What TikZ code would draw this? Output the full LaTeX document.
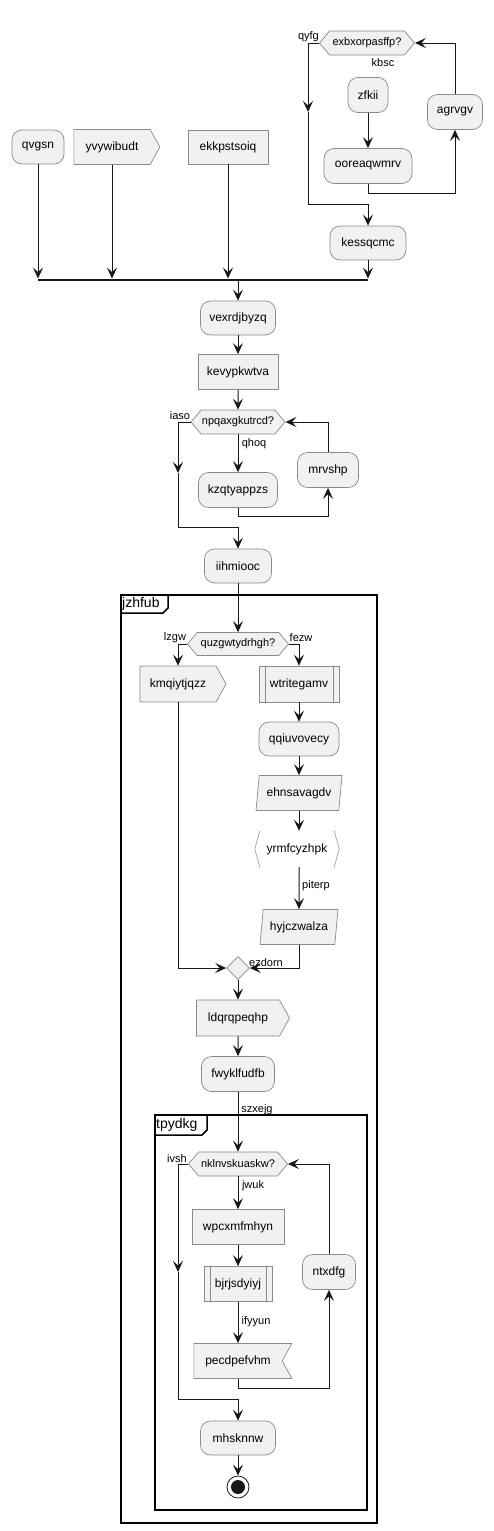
\documentclass[tikz,border=0pt]{standalone}
\usepackage{fontspec}
\setmainfont{Liberation Sans}
\usepackage{xcolor}
\usetikzlibrary{arrows.meta,positioning,shapes.geometric,shapes.symbols}

\definecolor{umlline}{HTML}{181818}
\definecolor{umlborder}{HTML}{8A8A8A}
\definecolor{umlfill}{HTML}{F1F1F1}

\begin{document}
\begin{tikzpicture}[x=1pt, y=-1pt,
    base/.style={draw=umlborder, fill=umlfill, line width=0.7pt, inner sep=0pt,
                 font=\fontsize{12}{14}\selectfont},
    act/.style={base, rectangle, rounded corners=10pt, minimum height=34pt},
    task/.style={base, rectangle, minimum height=35pt},
    subtask/.style={task, path picture={
        \draw[umlborder, line width=0.7pt] ([xshift=6pt]path picture bounding box.north west) -- ([xshift=6pt]path picture bounding box.south west);
        \draw[umlborder, line width=0.7pt] ([xshift=-6pt]path picture bounding box.north east) -- ([xshift=-6pt]path picture bounding box.south east);}},
    sendbox/.style={base, signal, signal to=east, signal from=nowhere, signal pointer angle=122, minimum height=35pt},
    recvbox/.style={base, signal, signal from=east, signal to=nowhere, signal pointer angle=122, minimum height=35pt},
    slantbox/.style={base, trapezium, trapezium left angle=74, trapezium right angle=106,
                     trapezium stretches body, minimum height=35pt},
    decide/.style={base, signal, signal to=east and west, signal pointer angle=100, minimum height=24pt,
                   font=\fontsize{11}{13}\selectfont},
    merge/.style={base, diamond, minimum size=23pt},
    bar/.style={fill=umlline, inner sep=0pt, minimum height=2.5pt},
    stopnode/.style={circle, draw=umlline, fill=white, line width=0.8pt, minimum size=22pt, inner sep=0pt,
        path picture={\fill[umlline] (path picture bounding box.center) circle (7pt);}},
    lbl/.style={inner sep=0pt, font=\fontsize{11}{13}\selectfont},
    frame/.style={draw=black, line width=1.5pt, inner sep=0pt, anchor=north west},
    framelbl/.style={inner sep=0pt, anchor=west, font=\fontsize{14}{16}\selectfont},
    flow/.style={-{Stealth[length=11pt, width=10pt, inset=4.5pt]}, umlline, line width=1pt},
    wire/.style={umlline, line width=1pt}
]
    \useasboundingbox (0,0) rectangle (493,1531);

    % Partitions
    \node[frame, minimum width=256pt, minimum height=928pt] (jzhfub) at (120,594) {};
    \draw[line width=1.5pt] ([yshift=-19pt]jzhfub.north west) -- ++(43,0) -- ++(5,-5) -- ++(0,-14);
    \node[framelbl] (jzhfubTitle) at ([xshift=2pt,yshift=-9.5pt]jzhfub.north west) {jzhfub};

    \node[frame, minimum width=212pt, minimum height=395pt] (tpydkg) at (154,1114) {};
    \draw[line width=1.5pt] ([yshift=-21pt]tpydkg.north west) -- ++(48,0) -- ++(5,-5) -- ++(0,-16);
    \node[framelbl] (tpydkgTitle) at ([xshift=2pt,yshift=-10.5pt]tpydkg.north west) {tpydkg};

    % Top row: parallel starts
    \node[act, minimum width=52pt] (qvgsn) at (38,147) {qvgsn};
    \node[sendbox, minimum width=86pt] (yvywibudt) at (112,147) {yvywibudt};
    \node[task, minimum width=80pt, minimum height=34pt] (ekkpstsoiq) at (228,147) {ekkpstsoiq};

    % Top right loop
    \node[decide, minimum width=95pt] (exbxorpasffp) at (367,43) {exbxorpasffp?};
    \node[act, minimum width=40pt, minimum height=35pt] (zfkii) at (368,95) {zfkii};
    \node[act, minimum width=88pt, minimum height=35pt] (ooreaqwmrv) at (368,166) {ooreaqwmrv};
    \node[act, minimum width=55pt, minimum height=35pt] (agrvgv) at (455,112) {agrvgv};
    \node[act, minimum width=76pt] (kessqcmc) at (368,243) {kessqcmc};
    \coordinate (qyfgArr) at (308,112);

    % Join bar
    \node[bar, minimum width=330pt] (forkjoin) at (203,280) {};

    % Middle column
    \node[act, minimum width=75pt] (vexrdjbyzq) at (238,318) {vexrdjbyzq};
    \node[task, minimum width=80pt] (kevypkwtva) at (238,372) {kevypkwtva};
    \node[decide, minimum width=94pt] (npqaxgkutrcd) at (238,422) {npqaxgkutrcd?};
    \node[act, minimum width=79pt, minimum height=35pt] (kzqtyappzs) at (238,490) {kzqtyappzs};
    \node[act, minimum width=61pt, minimum height=35pt] (mrvshp) at (328,470) {mrvshp};
    \node[act, minimum width=67pt] (iihmiooc) at (238,566) {iihmiooc};
    \coordinate (iasoArr) at (178,473);

    % Partition jzhfub
    \node[decide, minimum width=101pt, minimum height=23pt] (quzgwtydrhgh) at (238,644) {quzgwtydrhgh?};
    \node[sendbox, minimum width=86pt, minimum height=36pt] (kmqiytjqzz) at (178,684) {kmqiytjqzz};
    \node[subtask, minimum width=80pt, minimum height=36pt] (wtritegamv) at (299,684) {wtritegamv};
    \node[act, minimum width=80pt] (qqiuvovecy) at (299,739) {qqiuvovecy};
    \node[slantbox, minimum width=86pt] (ehnsavagdv) at (299,793) {ehnsavagdv};
    \node[inner sep=0pt, minimum width=84pt, minimum height=36pt, font=\fontsize{12}{14}\selectfont] (yrmfcyzhpk) at (297,849) {yrmfcyzhpk};
    \draw[umlborder!80, line width=0.7pt] ([xshift=5pt]yrmfcyzhpk.north west) -- (yrmfcyzhpk.west) -- ([xshift=5pt]yrmfcyzhpk.south west);
    \draw[umlborder!80, line width=0.7pt] ([xshift=-5pt]yrmfcyzhpk.north east) -- (yrmfcyzhpk.east) -- ([xshift=-5pt]yrmfcyzhpk.south east);
    \node[slantbox, minimum width=78pt] (hyjczwalza) at (299,927) {hyjczwalza};
    \node[merge] (mergeA) at (238,968) {};
    \node[sendbox, minimum width=93pt, minimum height=36pt] (ldqrqpeqhp) at (238,1018) {ldqrqpeqhp};
    \node[act, minimum width=73pt, minimum height=35pt] (fwyklfudfb) at (238,1074) {fwyklfudfb};

    % Partition tpydkg
    \node[decide, minimum width=99pt] (nklnvskuaskw) at (238,1164) {nklnvskuaskw?};
    \node[task, minimum width=92pt] (wpcxmfmhyn) at (238,1227) {wpcxmfmhyn};
    \node[subtask, minimum width=68pt] (bjrjsdyiyj) at (238,1284) {bjrjsdyiyj};
    \node[recvbox, minimum width=98pt] (pecdpefvhm) at (238,1361) {pecdpefvhm};
    \node[act, minimum width=53pt, minimum height=35pt] (ntxdfg) at (329,1272) {ntxdfg};
    \node[act, minimum width=75pt] (mhsknnw) at (238,1438) {mhsknnw};
    \node[stopnode] (stop) at (238,1487) {};
    \coordinate (ivshArr) at (178,1272);

    % Labels
    \node[lbl, anchor=east] (qyfgLbl) at (319,37) {qyfg};
    \node[lbl] (kbscLbl) at (383,63) {kbsc};
    \node[lbl] (iasoLbl) at (180,416) {iaso};
    \node[lbl] (qhoqLbl) at (254,444) {qhoq};
    \node[lbl] (lzgwLbl) at (175,638) {lzgw};
    \node[lbl] (fezwLbl) at (301,638) {fezw};
    \node[lbl] (piterpLbl) at (316,886) {piterp};
    \node[lbl] (ezdornLbl) at (266,963) {ezdorn};
    \node[lbl] (szxejgLbl) at (257,1110) {szxejg};
    \node[lbl] (ivshLbl) at (177,1159) {ivsh};
    \node[lbl] (jwukLbl) at (253,1186) {jwuk};
    \node[lbl] (ifyyunLbl) at (256,1322) {ifyyun};

    % Arrows: top loop
    \draw[flow] (exbxorpasffp.west) -| (qyfgArr);
    \draw[flow] (qyfgArr) |- ([yshift=21pt]kessqcmc.north) -- (kessqcmc.north);
    \draw[flow] (zfkii.south) -- (ooreaqwmrv.north);
    \draw[flow] (ooreaqwmrv.south) -- ++(0,10) -| (agrvgv.south);
    \draw[flow] (agrvgv.north) |- (exbxorpasffp.east);

    % Arrows: into join bar
    \draw[flow] (qvgsn.south) -- (qvgsn.south |- forkjoin.north);
    \draw[flow] (yvywibudt.south) -- (yvywibudt.south |- forkjoin.north);
    \draw[flow] (ekkpstsoiq.south) -- (ekkpstsoiq.south |- forkjoin.north);
    \draw[flow] (kessqcmc.south) -- (kessqcmc.south |- forkjoin.north);
    \draw[flow] (forkjoin.south -| vexrdjbyzq.north) -- (vexrdjbyzq.north);

    % Arrows: middle column
    \draw[flow] (vexrdjbyzq) -- (kevypkwtva);
    \draw[flow] (kevypkwtva) -- (npqaxgkutrcd);
    \draw[flow] (npqaxgkutrcd.south) -- (kzqtyappzs.north);
    \draw[flow] (kzqtyappzs.south) -- ++(0,9) -| (mrvshp.south);
    \draw[flow] (mrvshp.north) |- (npqaxgkutrcd.east);
    \draw[flow] (npqaxgkutrcd.west) -| (iasoArr);
    \draw[flow] (iasoArr) |- ([yshift=21pt]iihmiooc.north) -- (iihmiooc.north);
    \draw[flow] (iihmiooc.south) -- (quzgwtydrhgh.north);

    % Arrows: jzhfub
    \draw[flow] (quzgwtydrhgh.west) -| (kmqiytjqzz.north);
    \draw[flow] (quzgwtydrhgh.east) -| (wtritegamv.north);
    \draw[flow] (wtritegamv) -- (qqiuvovecy);
    \draw[flow] (qqiuvovecy) -- (ehnsavagdv);
    \draw[flow] (ehnsavagdv.south) -- (ehnsavagdv.south |- yrmfcyzhpk.north);
    \draw[flow] (ehnsavagdv.south |- yrmfcyzhpk.south) -- (hyjczwalza.north);
    \draw[flow] (hyjczwalza.south) |- (mergeA.east);
    \draw[flow] (kmqiytjqzz.south) |- (mergeA.west);
    \draw[flow] (mergeA.south) -- (ldqrqpeqhp.north);
    \draw[flow] (ldqrqpeqhp) -- (fwyklfudfb);
    \draw[flow] (fwyklfudfb.south) -- (nklnvskuaskw.north);

    % Arrows: tpydkg
    \draw[flow] (nklnvskuaskw.south) -- (wpcxmfmhyn.north);
    \draw[flow] (wpcxmfmhyn) -- (bjrjsdyiyj);
    \draw[flow] (bjrjsdyiyj) -- (pecdpefvhm);
    \draw[flow] (pecdpefvhm.south) -- ++(0,10) -| (ntxdfg.south);
    \draw[flow] (ntxdfg.north) |- (nklnvskuaskw.east);
    \draw[flow] (nklnvskuaskw.west) -| (ivshArr);
    \draw[flow] (ivshArr) |- ([yshift=21pt]mhsknnw.north) -- (mhsknnw.north);
    \draw[flow] (mhsknnw) -- (stop);
\end{tikzpicture}
\end{document}
